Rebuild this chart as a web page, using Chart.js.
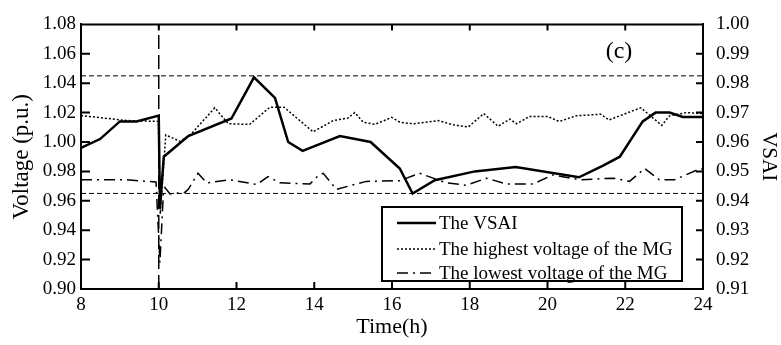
<!DOCTYPE html>
<html>
<head>
<meta charset="utf-8">
<script src="https://cdn.jsdelivr.net/npm/chart.js@4"></script>
<style>
  body { margin: 0; background: #fff; }
  canvas { display: block; }
</style>
</head>
<body>
<canvas id="chart" width="781" height="345"></canvas>
<script>
// VSAI (right axis)
const vsaiHours  = [8.0, 8.49, 9.0, 9.43, 10.0, 10.03, 10.13, 10.76, 11.87, 12.45, 12.99, 13.33, 13.7, 14.66, 15.45, 16.2, 16.53, 17.1, 18.13, 19.18, 20.81, 21.43, 21.86, 22.45, 22.78, 23.14, 23.48, 24.0];
const vsaiValues = [0.958, 0.961, 0.967, 0.967, 0.969, 0.9375, 0.955, 0.962, 0.968, 0.982, 0.975, 0.960, 0.957, 0.962, 0.960, 0.951, 0.9425, 0.947, 0.950, 0.9515, 0.948, 0.952, 0.955, 0.967, 0.970, 0.970, 0.9685, 0.9685];

// highest voltage of the MG (left axis)
const highHours  = [8.0, 9.17, 9.99, 10.04, 10.18, 10.55, 10.85, 11.44, 11.79, 12.34, 12.86, 13.22, 13.97, 14.49, 14.87, 15.04, 15.26, 15.56, 15.99, 16.2, 16.54, 17.19, 17.57, 17.96, 18.36, 18.73, 19.03, 19.2, 19.54, 20.01, 20.3, 20.73, 21.37, 21.58, 22.4, 22.94, 23.14, 23.57, 24.0];
const highValues = [1.018, 1.0146, 1.014, 0.951, 1.0048, 1.0004, 1.0058, 1.0233, 1.0124, 1.012, 1.0237, 1.0237, 1.0069, 1.0146, 1.0163, 1.020, 1.0135, 1.012, 1.0167, 1.0135, 1.0124, 1.0146, 1.0117, 1.0102, 1.0193, 1.0107, 1.0156, 1.0124, 1.0174, 1.0174, 1.0139, 1.0178, 1.0189, 1.015, 1.0233, 1.0113, 1.0178, 1.020, 1.0193];

// lowest voltage of the MG (left axis)
const lowHours  = [8.0, 9.17, 9.93, 10.03, 10.12, 10.16, 10.29, 10.67, 10.76, 11.01, 11.23, 11.83, 12.52, 12.81, 13.12, 13.89, 14.1, 14.23, 14.57, 15.34, 16.2, 16.71, 17.4, 17.91, 18.43, 18.94, 19.63, 20.14, 20.83, 21.69, 22.11, 22.5, 22.88, 23.27, 23.83, 24.0];
const lowValues = [0.9743, 0.9743, 0.9728, 0.918, 0.966, 0.969, 0.9646, 0.9657, 0.9678, 0.9787, 0.9722, 0.9743, 0.9711, 0.9765, 0.9722, 0.9715, 0.9771, 0.9787, 0.9678, 0.9732, 0.9737, 0.9787, 0.9722, 0.9706, 0.9754, 0.9715, 0.9715, 0.9776, 0.9743, 0.9754, 0.9732, 0.982, 0.9743, 0.9743, 0.9808, 0.982];

// reference lines
const upperLimit = 1.045;
const lowerLimit = 0.965;
const faultHour = 10;

const xTicks = [8, 10, 12, 14, 16, 18, 20, 22, 24];
const legendLabels = ['The VSAI', 'The highest voltage of the MG', 'The lowest voltage of the MG'];

const FONT = 'Liberation Serif';

function toPoints(xs, ys) {
    return xs.map((x, i) => ({ x: x, y: ys[i] }));
}

const lineBase = { pointRadius: 0, tension: 0, fill: false, borderColor: '#000' };

// inward tick marks, top border, legend box and panel tag
const framePlugin = {
    id: 'frame',
    afterDatasetsDraw(chart) {
        const ctx = chart.ctx;
        const area = chart.chartArea;
        const sx = chart.scales.x, sy = chart.scales.y, sy1 = chart.scales.y1;
        ctx.save();
        ctx.strokeStyle = '#000';
        ctx.lineWidth = 2;
        ctx.setLineDash([]);
        ctx.beginPath();
        ctx.moveTo(area.left, area.top);
        ctx.lineTo(area.right, area.top);
        sx.ticks.forEach(t => {
            if (t.value === 8 || t.value === 24) return;
            const px = sx.getPixelForValue(t.value);
            ctx.moveTo(px, area.bottom); ctx.lineTo(px, area.bottom - 7);
            ctx.moveTo(px, area.top); ctx.lineTo(px, area.top + 6);
        });
        sy.ticks.forEach(t => {
            const py = sy.getPixelForValue(t.value);
            ctx.moveTo(area.left, py); ctx.lineTo(area.left + 9, py);
        });
        sy1.ticks.forEach(t => {
            const py = sy1.getPixelForValue(t.value);
            ctx.moveTo(area.right, py); ctx.lineTo(area.right - 7, py);
        });
        ctx.stroke();

        // legend
        const bx = 382, by = 207, bw = 300, bh = 74;
        ctx.fillStyle = '#fff';
        ctx.fillRect(bx, by, bw, bh);
        ctx.lineWidth = 2;
        ctx.strokeRect(bx, by, bw, bh);
        const rows = [223, 249, 273];
        const sets = chart.data.datasets;
        ctx.font = '19px "' + FONT + '"';
        ctx.fillStyle = '#000';
        ctx.textBaseline = 'middle';
        rows.forEach((ry, i) => {
            const ds = sets[i];
            ctx.beginPath();
            ctx.lineWidth = ds.borderWidth;
            ctx.setLineDash(ds.borderDash || []);
            ctx.moveTo(397, ry);
            ctx.lineTo(436, ry);
            ctx.stroke();
            ctx.setLineDash([]);
            ctx.fillText(legendLabels[i], 439, ry + 1);
        });

        ctx.font = '24px "' + FONT + '"';
        ctx.textAlign = 'center';
        ctx.fillText('(c)', 619, 52);
        ctx.restore();
    }
};

new Chart(document.getElementById('chart'), {
    type: 'line',
    data: {
        datasets: [
            Object.assign({}, lineBase, {
                label: legendLabels[0],
                data: toPoints(vsaiHours, vsaiValues),
                yAxisID: 'y1',
                borderWidth: 2.5
            }),
            Object.assign({}, lineBase, {
                label: legendLabels[1],
                data: toPoints(highHours, highValues),
                yAxisID: 'y',
                borderWidth: 1.5,
                borderDash: [2, 2]
            }),
            Object.assign({}, lineBase, {
                label: legendLabels[2],
                data: toPoints(lowHours, lowValues),
                yAxisID: 'y',
                borderWidth: 1.5,
                borderDash: [11, 5, 2, 5]
            }),
            Object.assign({}, lineBase, {
                label: 'upper',
                data: toPoints([8, 24], [upperLimit, upperLimit]),
                yAxisID: 'y',
                borderWidth: 1,
                borderDash: [5, 3]
            }),
            Object.assign({}, lineBase, {
                label: 'lower',
                data: toPoints([8, 24], [lowerLimit, lowerLimit]),
                yAxisID: 'y',
                borderWidth: 1,
                borderDash: [5, 3]
            }),
            Object.assign({}, lineBase, {
                label: 'fault',
                data: toPoints([faultHour, faultHour], [0.90, 1.08]),
                yAxisID: 'y',
                borderWidth: 1.5,
                borderDash: [14, 6]
            })
        ]
    },
    options: {
        responsive: false,
        animation: false,
        layout: { padding: { top: 13, left: 0, right: 0, bottom: 0 } },
        plugins: {
            legend: { display: false },
            tooltip: { enabled: false }
        },
        scales: {
            x: {
                type: 'linear',
                min: 8,
                max: 24,
                afterFit: s => { s.height = 56; },
                afterBuildTicks: s => { s.ticks = xTicks.map(v => ({ value: v })); },
                grid: { display: false, drawTicks: false },
                border: { display: true, color: '#000', width: 2 },
                ticks: { color: '#000', padding: 5, font: { family: FONT, size: 19 } },
                title: {
                    display: true, text: 'Time(h)', color: '#000',
                    font: { family: FONT, size: 22 }, padding: { top: 0, bottom: 5 }
                }
            },
            y: {
                position: 'left',
                min: 0.90,
                max: 1.08,
                afterFit: s => { s.width = 81; },
                grid: { display: false, drawTicks: false },
                border: { display: true, color: '#000', width: 2 },
                ticks: {
                    stepSize: 0.02, color: '#000', padding: 5,
                    font: { family: FONT, size: 19 },
                    callback: v => v.toFixed(2)
                },
                title: {
                    display: true, text: 'Voltage (p.u.)', color: '#000',
                    font: { family: FONT, size: 23 }, padding: { top: 8, bottom: 0 }
                }
            },
            y1: {
                position: 'right',
                min: 0.91,
                max: 1.00,
                afterFit: s => { s.width = 78; },
                grid: { display: false, drawTicks: false },
                border: { display: true, color: '#000', width: 2 },
                ticks: {
                    stepSize: 0.01, color: '#000', padding: 13,
                    font: { family: FONT, size: 19 },
                    callback: v => v.toFixed(2)
                },
                title: {
                    display: true, text: 'VSAI', color: '#000',
                    font: { family: FONT, size: 21 }, padding: { top: 0, bottom: 0 }
                }
            }
        }
    },
    plugins: [framePlugin]
});
</script>
</body>
</html>
